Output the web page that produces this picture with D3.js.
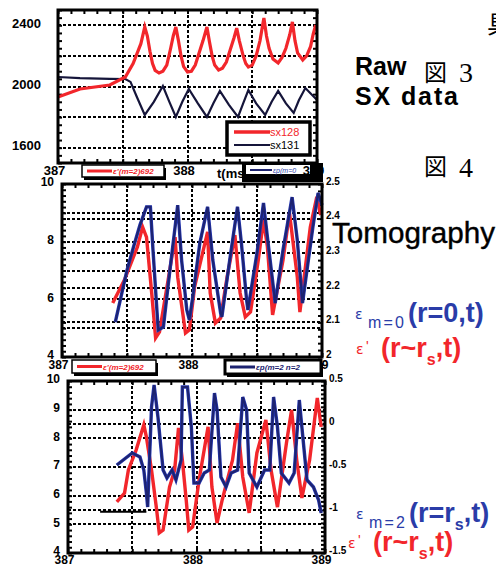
<!DOCTYPE html>
<html lang="en">
<head>
<meta charset="UTF-8">
<title>Raw SX data / Tomography</title>
<script src="https://d3js.org/d3.v7.min.js"></script>
<style>
  body { margin: 0; background: #fff; }
  svg { display: block; }
</style>
</head>
<body>
<script>
// ---- data (t in ms) ----
const tRange = [387, 389];
const tLabels = [387, 388, 389];
const tGrid = [387.5, 388, 388.5];

// panel 1: raw SX channels
const rawLeft = [1500, 2500];
const rawGrid = [1600, 1800, 2000, 2200, 2400];
const rawLabels = [1600, 2000, 2400];
const sx128 = [
  [387.00, 1931], [387.17, 1984], [387.40, 2010], [387.52, 2062], [387.58, 2150],
  [387.64, 2280], [387.67, 2389], [387.69, 2330], [387.71, 2230], [387.73, 2150],
  [387.75, 2105], [387.78, 2088], [387.81, 2100], [387.84, 2140], [387.87, 2250],
  [387.89, 2330], [387.91, 2389], [387.93, 2300], [387.95, 2200], [387.97, 2130],
  [388.00, 2095], [388.03, 2100], [388.06, 2140], [388.09, 2220], [388.12, 2300],
  [388.15, 2389], [388.17, 2290], [388.19, 2200], [388.21, 2140], [388.24, 2108],
  [388.27, 2120], [388.30, 2160], [388.33, 2240], [388.36, 2320], [388.38, 2382],
  [388.40, 2300], [388.43, 2200], [388.45, 2150], [388.47, 2127], [388.50, 2140],
  [388.53, 2200], [388.56, 2300], [388.58, 2400], [388.59, 2448], [388.61, 2330],
  [388.63, 2250], [388.66, 2180], [388.70, 2154], [388.73, 2190], [388.76, 2250],
  [388.79, 2340], [388.81, 2422], [388.83, 2300], [388.85, 2220], [388.89, 2173],
  [388.92, 2200], [388.95, 2260], [388.97, 2340], [388.99, 2402]
];
const sx131 = [
  [387.00, 2062], [387.17, 2055], [387.40, 2050], [387.52, 2049], [387.56, 2030],
  [387.61, 1930], [387.67, 1814], [387.74, 1900], [387.81, 2003], [387.86, 1900],
  [387.91, 1801], [387.96, 1900], [388.01, 1984], [388.08, 1890], [388.15, 1801],
  [388.20, 1890], [388.25, 1971], [388.32, 1880], [388.39, 1801], [388.43, 1890],
  [388.47, 1977], [388.53, 1890], [388.60, 1814], [388.65, 1900], [388.70, 1971],
  [388.76, 1890], [388.82, 1827], [388.86, 1910], [388.91, 1990], [389.00, 1912]
];

// panel 2: tomography m=0 (right axis) and e' (left axis)
const p2Left = [4, 10];
const p2LeftGrid = [5, 6, 7, 8, 9];
const p2LeftLabels = [4, 6, 8, 10];
const p2Right = [2, 2.5];
const p2RightGrid = [2.1, 2.2, 2.3, 2.4];
const p2RightLabels = [2, 2.1, 2.2, 2.3, 2.4, 2.5];
const epsM0 = [
  [387.41, 2.101], [387.50, 2.251], [387.55, 2.318], [387.60, 2.382], [387.65, 2.434],
  [387.68, 2.434], [387.70, 2.309], [387.73, 2.136], [387.74, 2.078], [387.78, 2.087],
  [387.83, 2.251], [387.87, 2.376], [387.89, 2.439], [387.92, 2.280], [387.96, 2.136],
  [387.98, 2.107], [388.01, 2.185], [388.06, 2.329], [388.12, 2.434], [388.16, 2.280],
  [388.22, 2.127], [388.23, 2.116], [388.29, 2.280], [388.35, 2.434], [388.38, 2.329],
  [388.42, 2.165], [388.43, 2.136], [388.50, 2.301], [388.55, 2.445], [388.58, 2.347],
  [388.64, 2.156], [388.70, 2.309], [388.77, 2.462], [388.81, 2.338], [388.85, 2.156],
  [388.93, 2.376], [388.97, 2.474], [389.00, 2.439]
];
const epsPrime2 = [
  [387.39, 5.87], [387.48, 6.67], [387.58, 7.82], [387.62, 8.51], [387.65, 8.16],
  [387.69, 6.22], [387.72, 4.66], [387.75, 4.87], [387.82, 6.77], [387.87, 8.16],
  [387.89, 6.77], [387.95, 4.83], [387.98, 4.94], [388.02, 6.43], [388.12, 8.34],
  [388.14, 6.22], [388.18, 5.18], [388.22, 5.35], [388.27, 6.77], [388.33, 8.23],
  [388.37, 6.22], [388.41, 5.39], [388.45, 5.56], [388.51, 7.36], [388.55, 8.75],
  [388.58, 7.82], [388.62, 5.46], [388.70, 7.36], [388.75, 8.99], [388.81, 6.77],
  [388.83, 5.56], [388.91, 8.51], [388.96, 9.55], [388.99, 8.92]
];

// panel 3: tomography m=2 (right axis) and e' (left axis)
const p3Left = [4, 10];
const p3LeftGrid = [5, 6, 7, 8, 9];
const p3LeftLabels = [4, 5, 6, 7, 8, 9, 10];
const p3Right = [-1.5, 0.5];
const p3RightGrid = [-1, -0.5, 0];
const p3RightLabels = [-1.5, -1, -0.5, 0, 0.5];
const epsM2 = [
  [387.38, -0.477], [387.50, -0.337], [387.56, -0.384], [387.59, -0.535], [387.61, -0.802],
  [387.62, -0.965], [387.65, 0.198], [387.67, 0.453], [387.70, 0.081], [387.74, -0.535],
  [387.77, -0.628], [387.81, -0.535], [387.84, -0.651], [387.88, -0.419], [387.89, 0.430],
  [387.93, 0.430], [387.96, -0.035], [387.98, -0.686], [388.02, -0.686], [388.06, -0.570],
  [388.10, -0.535], [388.14, 0.360], [388.16, 0.163], [388.19, -0.616], [388.23, -0.733],
  [388.27, -0.570], [388.32, -0.535], [388.36, 0.314], [388.39, 0.163], [388.41, -0.570],
  [388.47, -0.733], [388.53, -0.535], [388.57, -0.535], [388.60, 0.314], [388.63, -0.035],
  [388.66, -0.570], [388.72, -0.686], [388.76, -0.570], [388.80, 0.279], [388.82, -0.035],
  [388.86, -0.651], [388.91, -0.733], [388.95, -0.884], [388.97, -1.035]
];
const epsPrime3 = [
  [387.38, 5.78], [387.44, 6.09], [387.47, 6.90], [387.53, 7.59], [387.59, 8.47],
  [387.61, 8.05], [387.65, 6.90], [387.69, 5.50], [387.71, 4.70], [387.74, 4.80],
  [387.79, 6.30], [387.83, 6.90], [387.86, 8.36], [387.89, 7.24], [387.92, 5.85],
  [387.94, 4.80], [387.97, 4.91], [388.02, 6.55], [388.09, 8.40], [388.12, 6.30],
  [388.16, 5.05], [388.20, 5.85], [388.28, 7.24], [388.32, 8.53], [388.36, 6.65],
  [388.41, 5.40], [388.47, 7.49], [388.54, 8.64], [388.58, 6.90], [388.63, 5.60],
  [388.70, 7.84], [388.74, 8.99], [388.78, 7.24], [388.82, 5.92], [388.88, 7.24],
  [388.94, 9.41], [388.97, 8.40]
];
const preTrigger = [[387.25, -1.02], [387.61, -1.02]];

const RED = '#f2262b';
const NAVY = '#1d2370';
const BLUE = '#2a3ca8';

const svg = d3.select('body').append('svg')
  .attr('width', 496)
  .attr('height', 567)
  .style('font-family', '"Liberation Sans", Arial, sans-serif');

const labelStyle = (sel, size) => {
  sel.select('.domain').remove();
  sel.selectAll('line').remove();
  sel.selectAll('text')
    .attr('font-family', '"Liberation Sans", Arial, sans-serif')
    .attr('font-weight', 'bold')
    .attr('font-size', size)
    .attr('fill', '#000');
};

// draws one framed panel, returns its scales
function drawPanel(p) {
  const x = d3.scaleLinear().domain(tRange).range([p.x0, p.x1]);
  const yl = d3.scaleLinear().domain(p.left).range([p.y1, p.y0]);
  const yr = p.right ? d3.scaleLinear().domain(p.right).range([p.y1, p.y0]) : null;
  const g = svg.append('g');

  // dotted grid
  const grid = g.append('g')
    .attr('stroke', '#000')
    .attr('stroke-width', 2.5)
    .attr('stroke-dasharray', '2.5,2.5')
    .attr('shape-rendering', 'crispEdges');
  grid.selectAll('.vg').data(tGrid).enter().append('line')
    .attr('x1', d => Math.round(x(d))).attr('x2', d => Math.round(x(d)))
    .attr('y1', p.y0).attr('y2', p.y1);
  grid.selectAll('.hl').data(p.leftGrid).enter().append('line')
    .attr('x1', p.x0).attr('x2', p.x1)
    .attr('y1', d => Math.round(yl(d))).attr('y2', d => Math.round(yl(d)));
  if (yr) {
    grid.selectAll('.hr').data(p.rightGrid).enter().append('line')
      .attr('x1', p.x0).attr('x2', p.x1)
      .attr('y1', d => Math.round(yr(d))).attr('y2', d => Math.round(yr(d)));
  }

  // inward minor ticks on every side
  const tickStyle = sel => {
    sel.select('.domain').remove();
    sel.selectAll('text').remove();
    sel.selectAll('line').attr('stroke', '#000').attr('stroke-width', 2);
  };
  g.append('g').attr('transform', `translate(0,${p.y0})`)
    .call(d3.axisTop(x).ticks(20).tickSize(-4)).call(tickStyle);
  g.append('g').attr('transform', `translate(0,${p.y1})`)
    .call(d3.axisBottom(x).ticks(20).tickSize(-4)).call(tickStyle);
  g.append('g').attr('transform', `translate(${p.x0},0)`)
    .call(d3.axisLeft(yl).ticks(p.minor).tickSize(-4)).call(tickStyle);
  g.append('g').attr('transform', `translate(${p.x1},0)`)
    .call(d3.axisRight(yr || yl).ticks(p.minor).tickSize(-4)).call(tickStyle);

  // tick labels
  g.append('g').attr('transform', `translate(${p.x0 - p.leftPad},-2)`)
    .call(d3.axisLeft(yl).tickValues(p.leftLabels).tickSize(0).tickPadding(0)
      .tickFormat(d3.format('d')))
    .call(labelStyle, p.labelSize);
  if (yr) {
    g.append('g').attr('transform', `translate(${p.x1 + 4},-3)`)
      .call(d3.axisRight(yr).tickValues(p.rightLabels).tickSize(0).tickPadding(0)
        .tickFormat(d => String(d)))
      .call(labelStyle, 10);
  }

  const layer = svg.append('g');
  // frame and time labels are added after the traces
  p.frame = () => svg.append('rect')
    .attr('x', p.x0).attr('y', p.y0)
    .attr('width', p.x1 - p.x0).attr('height', p.y1 - p.y0)
    .attr('fill', 'none').attr('stroke', '#000').attr('stroke-width', 3);
  p.timeLabels = () => svg.append('g').attr('transform', `translate(-4,${p.y1 + p.xPad})`)
    .call(d3.axisBottom(x).tickValues(tLabels).tickSize(0).tickPadding(0)
      .tickFormat(d3.format('d')))
    .call(labelStyle, p.labelSize);
  return { x, yl, yr, layer };
}

function trace(s, scaleY, data, color, width, dash) {
  const line = d3.line().x(d => s.x(d[0])).y(d => scaleY(d[1]));
  s.layer.append('path')
    .datum(data)
    .attr('d', line)
    .attr('fill', 'none')
    .attr('stroke', color)
    .attr('stroke-width', width)
    .attr('stroke-linejoin', 'miter')
    .attr('stroke-dasharray', dash || null);
}

// ---- panel 1 ----
const P1 = { x0: 58, x1: 317, y0: 10, y1: 163, left: rawLeft, leftGrid: rawGrid,
  leftLabels: rawLabels, minor: 20, leftPad: 17, labelSize: 13, xPad: 3 };
const s1 = drawPanel(P1);
trace(s1, s1.yl, sx131, '#15153a', 2.2);
trace(s1, s1.yl, sx128, RED, 3.2);
P1.frame();

// legend of panel 1
const lg = svg.append('g');
lg.append('rect').attr('x', 227).attr('y', 122).attr('width', 83).attr('height', 33)
  .attr('fill', '#fff').attr('stroke', '#000').attr('stroke-width', 3.5);
lg.append('line').attr('x1', 234).attr('x2', 270).attr('y1', 132).attr('y2', 132)
  .attr('stroke', RED).attr('stroke-width', 3.5);
lg.append('line').attr('x1', 234).attr('x2', 270).attr('y1', 145).attr('y2', 145)
  .attr('stroke', '#15153a').attr('stroke-width', 2);
lg.append('text').attr('x', 270).attr('y', 136).attr('font-size', 11).attr('fill', RED).text('sx128');
lg.append('text').attr('x', 270).attr('y', 149).attr('font-size', 11).attr('fill', '#000').text('sx131');

// ---- panel 2 ----
const P2 = { x0: 62, x1: 322, y0: 184, y1: 357, left: p2Left, leftGrid: p2LeftGrid,
  leftLabels: p2LeftLabels, right: p2Right, rightGrid: p2RightGrid,
  rightLabels: p2RightLabels, minor: 30, leftPad: 8, labelSize: 12, xPad: 3 };
const s2 = drawPanel(P2);
trace(s2, s2.yl, epsPrime2, RED, 3.4);
trace(s2, s2.yr, epsM0, '#2436b0', 3.4);
trace(s2, s2.yr, epsM0, NAVY, 2);
P2.frame();

// ---- panel 3 ----
const P3 = { x0: 68, x1: 325, y0: 381, y1: 553, left: p3Left, leftGrid: p3LeftGrid,
  leftLabels: p3LeftLabels, right: p3Right, rightGrid: p3RightGrid,
  rightLabels: p3RightLabels, minor: 30, leftPad: 8, labelSize: 12, xPad: 2 };
const s3 = drawPanel(P3);
trace(s3, s3.yr, preTrigger, '#000', 2);
trace(s3, s3.yl, epsPrime3, RED, 3.4);
trace(s3, s3.yr, epsM2, '#2436b0', 3.4);
trace(s3, s3.yr, epsM2, NAVY, 2);
P3.frame();
P3.timeLabels();

// ---- legend strips between panels ----
function legendBox(x, y, w, h, color, label, heavy) {
  const g = svg.append('g');
  g.append('rect').attr('x', x + 2).attr('y', y + 3).attr('width', w).attr('height', h)
    .attr('fill', '#000');
  g.append('rect').attr('x', x).attr('y', y).attr('width', w).attr('height', h)
    .attr('fill', '#fff').attr('stroke', '#000').attr('stroke-width', heavy ? 3 : 1.5);
  g.append('line').attr('x1', x + 5).attr('x2', x + 30).attr('y1', y + h / 2).attr('y2', y + h / 2)
    .attr('stroke', color).attr('stroke-width', 3);
  g.append('text').attr('x', x + 31).attr('y', y + h / 2 + 3)
    .attr('font-size', 8).attr('font-style', 'italic').attr('font-weight', 'bold')
    .attr('fill', color).text(label);
}
// strip 1 (between panel 1 and 2)
legendBox(82, 165, 82, 12, RED, "ε'(m=2)692", false);
svg.append('text').attr('x', 217).attr('y', 178).attr('font-size', 13)
  .attr('font-weight', 'bold').text('t(ms)');
svg.append('rect').attr('x', 242).attr('y', 163).attr('width', 81).attr('height', 19)
  .attr('fill', '#000');
svg.append('rect').attr('x', 246).attr('y', 165).attr('width', 64).attr('height', 9)
  .attr('fill', '#fff');
svg.append('line').attr('x1', 250).attr('x2', 272).attr('y1', 170).attr('y2', 170)
  .attr('stroke', NAVY).attr('stroke-width', 2);
svg.append('text').attr('x', 273).attr('y', 173).attr('font-size', 7)
  .attr('font-style', 'italic').attr('fill', BLUE).text('εp(m=0');
P1.timeLabels();

// strip 2 (between panel 2 and 3)
P2.timeLabels();
legendBox(72, 360, 84, 13, RED, "ε'(m=2)692", false);
legendBox(225, 360, 96, 14, NAVY, 'εp(m=2 n=2', true);

// ---- annotations on the right ----
const ann = svg.append('g');
ann.append('text').attr('x', 487).attr('y', 33).attr('font-size', 24)
  .attr('font-family', '"Noto Sans CJK JP"').text('具');
ann.append('text').attr('x', 355).attr('y', 75).attr('font-size', 25)
  .attr('font-weight', 'bold').text('Raw');
ann.append('text').attr('x', 355).attr('y', 105).attr('font-size', 25)
  .attr('font-weight', 'bold').attr('textLength', 103).text('SX data');
ann.append('text').attr('x', 424).attr('y', 81).attr('font-size', 23)
  .attr('font-family', '"Noto Sans CJK JP"').text('図');
ann.append('text').attr('x', 459).attr('y', 82).attr('font-size', 28)
  .attr('font-family', '"Liberation Serif", serif').text('3');
ann.append('text').attr('x', 424).attr('y', 175).attr('font-size', 23)
  .attr('font-family', '"Noto Sans CJK JP"').text('図');
ann.append('text').attr('x', 459).attr('y', 177).attr('font-size', 28)
  .attr('font-family', '"Liberation Serif", serif').text('4');
ann.append('text').attr('x', 332).attr('y', 243).attr('font-size', 29)
  .attr('font-weight', 500).attr('stroke', '#000').attr('stroke-width', 0.4)
  .attr('textLength', 163).attr('lengthAdjust', 'spacingAndGlyphs').text('Tomography');

function epsLabel(x, y, color, sub, inner, subS) {
  const g = svg.append('g').attr('fill', color);
  g.append('text').attr('x', x).attr('y', y - 3).attr('font-size', 14)
    .attr('font-family', '"DejaVu Sans", sans-serif').text('ε');
  if (sub) {
    g.append('text').attr('x', x + 13).attr('y', y + 6).attr('font-size', 16)
      .attr('textLength', 36).text(sub);
  } else {
    g.append('text').attr('x', x + 10).attr('y', y - 6).attr('font-size', 14).text("'");
  }
  const t = g.append('text').attr('x', sub ? x + 53 : x + 25).attr('y', y)
    .attr('font-size', 27).attr('font-weight', 'bold');
  t.append('tspan').text(inner);
  if (subS) {
    t.append('tspan').attr('font-size', 16).attr('dy', 8).text('s');
    t.append('tspan').attr('font-size', 27).attr('dy', -8).text(',t)');
  }
}
epsLabel(355, 322, BLUE, 'm=0', '(r=0,t)', false);
epsLabel(356, 357, RED, null, '(r~r', true);
epsLabel(356, 522, BLUE, 'm=2', '(r=r', true);
epsLabel(348, 551, RED, null, '(r~r', true);
</script>
</body>
</html>
